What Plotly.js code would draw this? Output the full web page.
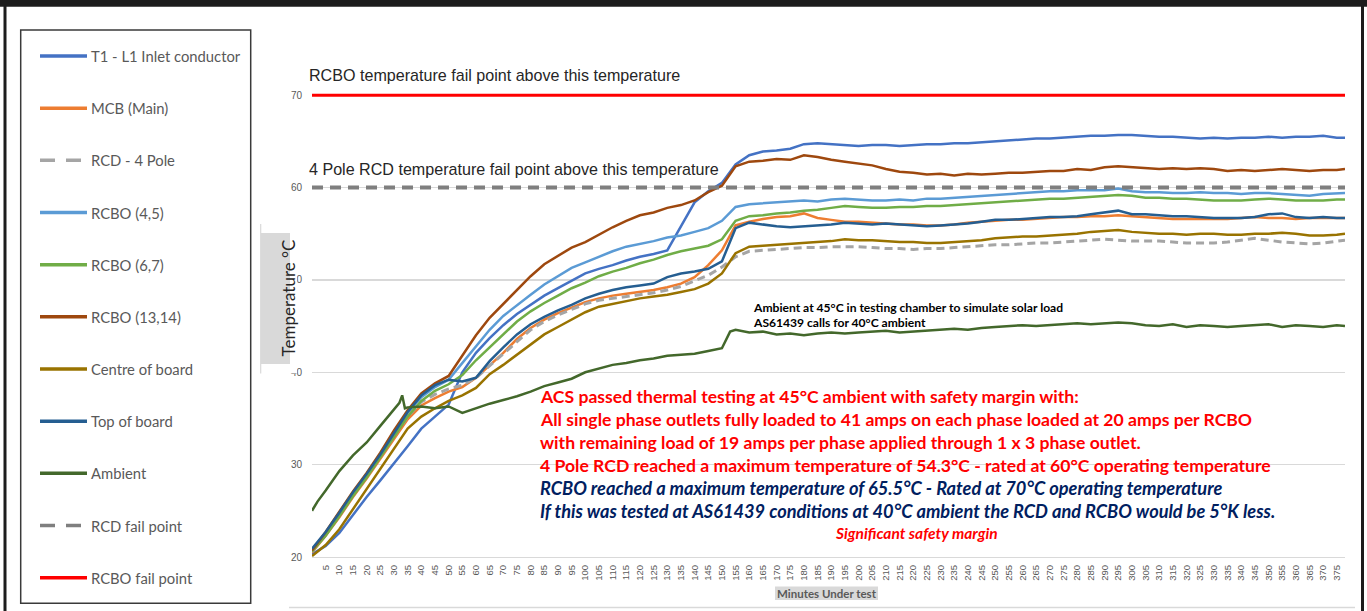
<!DOCTYPE html>
<html><head><meta charset="utf-8">
<script src="https://cdn.plot.ly/plotly-3.0.1.min.js"></script>
<style>html,body{margin:0;padding:0;background:#fff;overflow:hidden}#chart{width:1367px;height:611px}</style>
</head><body><div id="chart"></div>
<script>
// ---------------- DATA ----------------
const seriesNames = ["T1 - L1 Inlet conductor","MCB (Main)","RCD - 4 Pole","RCBO (4,5)","RCBO (6,7)","RCBO (13,14)","Centre of board","Top of board","Ambient","RCD fail point","RCBO fail point"];
const minutes = [0,5,10,15,20,25,30,35,40,45,50,55,60,65,70,75,80,85,90,95,100,105,110,115,120,125,130,135,140,145,150,155,160,165,170,175,180,185,190,195,200,205,210,215,220,225,230,235,240,245,250,255,260,265,270,275,280,285,290,295,300,305,310,315,320,325,330,335,340,345,350,355,360,365,370,375,378];
const t1Inlet = [20.3,21.2,22.6,24.6,26.5,28.3,30.1,32.0,33.9,35.2,36.5,40.0,42.1,43.7,45.1,46.3,47.3,48.3,49.1,49.9,50.7,51.2,51.6,52.1,52.5,52.8,53.2,55.8,58.4,59.6,60.5,62.5,63.5,63.9,64.0,64.2,64.7,64.8,64.7,64.6,64.5,64.6,64.6,64.5,64.6,64.7,64.7,64.8,64.8,64.9,65.0,65.1,65.2,65.3,65.3,65.4,65.5,65.6,65.6,65.7,65.7,65.6,65.5,65.5,65.4,65.3,65.4,65.3,65.4,65.4,65.5,65.4,65.5,65.5,65.6,65.4,65.4];
const mcbMain = [20.5,22.3,24.3,26.5,28.5,30.6,32.8,34.9,36.4,37.2,37.9,38.4,39.4,40.7,42.1,43.6,44.8,45.7,46.4,47.0,47.6,48.0,48.3,48.5,48.7,48.9,49.2,49.6,50.3,51.6,53.2,55.9,56.3,56.6,56.8,56.9,57.2,56.7,56.5,56.3,56.3,56.2,56.1,56.0,56.0,55.9,55.9,56.0,56.2,56.3,56.4,56.5,56.5,56.6,56.7,56.8,56.8,56.9,56.9,57.0,56.9,56.8,56.7,56.6,56.6,56.6,56.6,56.6,56.7,56.8,56.7,56.7,56.6,56.7,56.7,56.7,56.7];
const rcd4Pole = [20.6,22.5,24.6,26.8,28.8,30.9,33.1,35.2,36.8,37.6,38.2,38.6,39.4,40.7,42.0,43.4,44.6,45.5,46.2,46.8,47.4,47.8,48.0,48.2,48.4,48.6,48.9,49.3,49.9,50.5,51.4,52.5,53.1,53.2,53.3,53.4,53.5,53.5,53.6,53.6,53.6,53.5,53.4,53.4,53.3,53.4,53.4,53.5,53.6,53.7,53.8,53.8,53.9,54.0,54.0,54.1,54.2,54.3,54.4,54.3,54.2,54.2,54.2,54.1,54.0,54.0,54.0,54.1,54.3,54.5,54.3,54.1,54.0,53.9,54.0,54.2,54.3];
const rcbo45 = [20.8,22.6,24.7,26.9,28.8,31.0,33.4,35.6,37.3,38.4,39.2,41.0,42.8,44.6,46.1,47.3,48.4,49.5,50.4,51.3,51.9,52.5,53.1,53.6,53.9,54.2,54.6,54.8,55.2,55.6,56.4,57.9,58.2,58.3,58.4,58.5,58.6,58.5,58.7,58.8,58.7,58.6,58.6,58.7,58.6,58.8,58.8,58.9,59.0,59.1,59.2,59.3,59.4,59.5,59.6,59.6,59.7,59.7,59.7,59.9,59.6,59.5,59.5,59.4,59.4,59.5,59.4,59.4,59.3,59.4,59.4,59.3,59.2,59.1,59.3,59.4,59.4];
const rcbo67 = [20.6,22.3,24.4,26.6,28.6,30.8,33.1,35.2,36.9,38.0,38.7,39.7,41.3,42.7,44.2,45.5,46.6,47.5,48.3,49.1,49.7,50.4,50.9,51.3,51.8,52.2,52.7,53.1,53.4,53.7,54.4,56.4,56.9,57.0,57.2,57.3,57.5,57.6,57.8,58.0,57.9,57.8,57.8,57.9,57.9,58.0,58.0,58.1,58.2,58.3,58.4,58.5,58.6,58.7,58.8,58.8,58.9,59.0,59.1,59.2,59.1,58.9,58.9,58.8,58.8,58.7,58.6,58.6,58.6,58.7,58.8,58.7,58.6,58.6,58.6,58.7,58.7];
const rcbo1314 = [20.7,22.7,24.9,27.1,29.1,31.3,33.7,35.9,37.7,38.8,39.6,41.8,44.0,45.9,47.4,49.0,50.4,51.7,52.6,53.5,54.1,54.9,55.7,56.4,57.0,57.3,57.8,58.1,58.6,59.5,60.2,62.3,62.8,62.9,63.1,63.0,63.5,63.3,63.0,62.8,62.6,62.4,62.0,61.7,61.6,61.4,61.5,61.3,61.5,61.4,61.5,61.6,61.6,61.7,61.8,61.8,62.0,61.9,62.2,62.3,62.2,62.1,62.0,62.1,62.0,62.1,62.0,61.8,61.9,61.8,61.9,62.0,61.9,61.8,61.9,61.9,62.0];
const centreBoard = [20.1,21.3,23.0,25.2,27.3,29.5,31.8,33.9,35.2,36.1,36.9,37.5,38.3,39.8,40.8,41.9,43.1,44.1,44.9,45.7,46.5,47.1,47.4,47.7,48.0,48.2,48.4,48.7,49.0,49.6,50.7,52.9,53.6,53.7,53.8,53.9,54.0,54.1,54.2,54.4,54.3,54.3,54.2,54.1,54.1,54.0,54.0,54.1,54.2,54.3,54.5,54.6,54.7,54.7,54.8,54.9,55.0,55.2,55.3,55.4,55.2,55.1,55.0,55.0,54.9,55.0,55.0,54.9,54.9,55.0,55.0,55.1,55.0,54.8,54.8,54.9,55.0];
const topBoard = [20.9,22.7,24.8,27.0,29.0,31.1,33.4,35.7,37.5,38.6,39.2,39.0,39.4,41.2,42.7,44.1,45.2,46.0,46.7,47.3,48.0,48.5,48.9,49.2,49.4,49.6,50.3,50.7,50.9,51.2,52.0,55.6,56.2,56.0,55.8,55.7,55.8,55.9,56.0,56.2,56.1,56.0,56.1,56.0,55.9,55.8,55.9,56.0,56.1,56.3,56.5,56.5,56.6,56.7,56.8,56.8,56.9,57.1,57.3,57.5,57.1,57.1,57.0,56.9,56.9,56.8,56.7,56.7,56.7,56.8,57.1,57.2,56.8,56.7,56.8,56.7,56.7];
const ambientMinutes = [0,2,5,10,15,20,25,30,32,33,34,35,40,45,50,55,60,65,70,75,80,85,90,95,100,105,110,115,120,125,130,135,140,145,150,153,155,160,165,170,175,180,185,190,195,200,205,210,215,220,225,230,235,240,245,250,255,260,265,270,275,280,285,290,295,300,305,310,315,320,325,330,335,340,345,350,355,360,365,370,375,378];
const ambient = [25.0,26.0,27.2,29.3,31.0,32.4,34.2,36.0,36.7,37.5,36.1,36.2,36.3,36.1,36.3,35.6,36.1,36.6,37.0,37.4,37.9,38.5,38.9,39.3,40.0,40.4,40.8,41.0,41.3,41.5,41.8,41.9,42.0,42.3,42.6,44.4,44.6,44.3,44.4,44.1,44.2,44.0,44.2,44.3,44.2,44.3,44.4,44.5,44.3,44.4,44.5,44.6,44.7,44.6,44.8,44.9,45.0,45.1,45.0,45.1,45.2,45.3,45.2,45.3,45.4,45.3,45.1,45.0,45.2,44.9,45.1,45.0,44.9,45.0,45.1,45.2,44.9,45.1,45.0,44.9,45.1,45.0];
const failMinutes = [0,378];
const rcdFail = [60,60];
const rcboFail = [70,70];
const tempTicks = [20,30,40,50,60,70];
const minuteTicks = [5,10,15,20,25,30,35,40,45,50,55,60,65,70,75,80,85,90,95,100,105,110,115,120,125,130,135,140,145,150,155,160,165,170,175,180,185,190,195,200,205,210,215,220,225,230,235,240,245,250,255,260,265,270,275,280,285,290,295,300,305,310,315,320,325,330,335,340,345,350,355,360,365,370,375];
const noteLines = ["ACS passed thermal testing at 45°C ambient with safety margin with:",
  "All single phase outlets fully loaded to 41 amps on each phase loaded at 20 amps per RCBO",
  "with remaining load of 19 amps per phase applied through 1 x 3 phase outlet.",
  "4 Pole RCD reached a maximum temperature of 54.3°C - rated at 60°C operating temperature",
  "RCBO reached a maximum temperature of 65.5°C - Rated at 70°C operating temperature",
  "If this was tested at AS61439 conditions at 40°C ambient the RCD and RCBO would be 5°K less."];
const marginNote = "Significant safety margin";
const ambientNotes = ["Ambient at 45°C in testing chamber to simulate solar load","AS61439 calls for 40°C ambient"];
const limitNotes = ["RCBO temperature fail point above this temperature","4 Pole RCD temperature fail point above this temperature"];

// ---------------- STYLES ----------------
const styles = [
  {color:'#4472c4', dash:'solid', width:2.5},
  {color:'#ed7d31', dash:'solid', width:2.5},
  {color:'#a5a5a5', dash:'8px,5px', width:3, legDash:'15px,11px'},
  {color:'#5b9bd5', dash:'solid', width:2.5},
  {color:'#70ad47', dash:'solid', width:2.5},
  {color:'#9e480e', dash:'solid', width:2.5},
  {color:'#997300', dash:'solid', width:2.5},
  {color:'#255e91', dash:'solid', width:2.5},
  {color:'#43682b', dash:'solid', width:2.5},
  {color:'#7f7f7f', dash:'11px,7px', width:4, legDash:'15px,11px'},
  {color:'#ff0000', dash:'solid', width:3}
];
const xs = [minutes,minutes,minutes,minutes,minutes,minutes,minutes,minutes,ambientMinutes,failMinutes,failMinutes];
const ys = [t1Inlet,mcbMain,rcd4Pole,rcbo45,rcbo67,rcbo1314,centreBoard,topBoard,ambient,rcdFail,rcboFail];

const L=312, R=1345, T=49, B=557;
const xp = p => (p-L)/(R-L);
const yp = p => (B-p)/(B-T);
const FONT = 'Lato, "Noto Sans", sans-serif';

const traces = seriesNames.map((n,i)=>({
  type:'scatter', mode:'lines', name:n, x:xs[i], y:ys[i],
  line:{color:styles[i].color, width:styles[i].width, dash:styles[i].dash},
  hoverinfo:'skip', showlegend:false
}));

const shapes = [];
const annotations = [];
// outer frame
shapes.push({type:'rect',xref:'paper',yref:'paper',x0:xp(0),x1:xp(1367),y0:yp(0),y1:yp(6.7),fillcolor:'#1c1c1c',line:{width:0},layer:'above'});
shapes.push({type:'rect',xref:'paper',yref:'paper',x0:xp(3.5),x1:xp(6.5),y0:yp(0),y1:yp(611),fillcolor:'#1c1c1c',line:{width:0},layer:'above'});
shapes.push({type:'rect',xref:'paper',yref:'paper',x0:xp(1361),x1:xp(1364),y0:yp(0),y1:yp(611),fillcolor:'#1c1c1c',line:{width:0},layer:'above'});
// legend box
shapes.push({type:'rect',xref:'paper',yref:'paper',x0:xp(20.7),x1:xp(250.7),y0:yp(30),y1:yp(603.3),line:{color:'#3a3a3a',width:1.5},fillcolor:'rgba(0,0,0,0)',layer:'above'});
seriesNames.forEach((n,i)=>{
  const yy = 56 + 52.17*i;
  shapes.push({type:'line',xref:'paper',yref:'paper',x0:xp(40),x1:xp(87),y0:yp(yy),y1:yp(yy),
    line:{color:styles[i].color,width:3.5,dash:styles[i].legDash||'solid'},layer:'above'});
  annotations.push({xref:'paper',yref:'paper',x:xp(89),y:yp(yy),xanchor:'left',yanchor:'middle',showarrow:false,
    text:n,font:{family:FONT,size:14.8,color:'#595959'}});
});
// bottom light line
shapes.push({type:'line',xref:'paper',yref:'paper',x0:xp(289),x1:xp(1355),y0:yp(607.5),y1:yp(607.5),line:{color:'#d9d9d9',width:1.5},layer:'above'});
// y title area
shapes.push({type:'rect',xref:'paper',yref:'paper',x0:xp(261),x1:xp(297),y0:yp(373.5),y1:yp(224),fillcolor:'#ffffff',line:{width:0},layer:'above'});
shapes.push({type:'line',xref:'paper',yref:'paper',x0:xp(260.7),x1:xp(260.7),y0:yp(373.5),y1:yp(224),line:{color:'#d9d9d9',width:1.2},layer:'above'});
shapes.push({type:'rect',xref:'paper',yref:'paper',x0:xp(261),x1:xp(290),y0:yp(364),y1:yp(233),fillcolor:'#d9d9d9',line:{width:0},layer:'above'});
// x title box
shapes.push({type:'rect',xref:'paper',yref:'paper',x0:xp(775),x1:xp(878),y0:yp(600),y1:yp(586.5),fillcolor:'#d9d9d9',line:{width:0},layer:'above'});

annotations.push({xref:'paper',yref:'paper',x:xp(275.5),y:yp(298.5),textangle:-90,showarrow:false,
  text:'Temperature °C',font:{family:FONT,size:17,color:'#262626'}});
annotations.push({xref:'paper',yref:'paper',x:xp(826.5),y:yp(593.2),xanchor:'center',yanchor:'middle',showarrow:false,
  text:'Minutes Under test',font:{family:FONT,size:11.5,color:'#595959',weight:'bold'}});
[75,169].forEach((yy,i)=>annotations.push({xref:'paper',yref:'paper',x:xp(307),y:yp(yy),xanchor:'left',yanchor:'middle',showarrow:false,
  text:limitNotes[i],font:{family:'"Liberation Sans", Arial, sans-serif',size:16.1,color:'#262626'}}));
[307,323].forEach((yy,i)=>annotations.push({xref:'paper',yref:'paper',x:xp(751),y:yp(yy),xanchor:'left',yanchor:'middle',showarrow:false,
  text:ambientNotes[i],font:{family:FONT,size:12.1,color:'#000000',weight:'bold'}}));
const noteY=[396.7,419.3,442,465.7,488.3,511];
noteLines.forEach((t,i)=>annotations.push({xref:'paper',yref:'paper',x:xp(538),y:yp(noteY[i]),xanchor:'left',yanchor:'middle',showarrow:false,
  text:t,font:{family:FONT,size:i>=4?18.2:17.6,weight:'bold',style:i>=4?'italic':'normal',color:i>=4?'#002060':'#ff0000'}}));
annotations.push({xref:'paper',yref:'paper',x:xp(916),y:yp(533.3),xanchor:'center',yanchor:'middle',showarrow:false,
  text:marginNote,font:{family:FONT,size:15.5,weight:'bold',style:'italic',color:'#ff0000'}});

const layout = {
  width:1367, height:611, autosize:false,
  margin:{l:L, r:1367-R, t:T, b:611-B, pad:0},
  paper_bgcolor:'#ffffff', plot_bgcolor:'#ffffff',
  showlegend:false,
  xaxis:{range:[0,378], tickmode:'array', tickvals:minuteTicks, tickangle:-90, showgrid:false, zeroline:false,
    showline:true, linecolor:'#d9d9d9', linewidth:1.2, ticks:'', ticklabelstandoff:3,
    tickfont:{family:'"Liberation Sans", Arial, sans-serif', size:9.5, color:'#595959'}},
  yaxis:{range:[20,75], tickmode:'array', tickvals:tempTicks, showgrid:true, gridcolor:'#d9d9d9', gridwidth:1.2,
    zeroline:false, showline:false, ticks:'', ticklabelstandoff:9,
    tickfont:{family:'"Liberation Sans", Arial, sans-serif', size:10, color:'#595959'}},
  shapes:shapes, annotations:annotations
};
Plotly.newPlot('chart', traces, layout, {staticPlot:true, displayModeBar:false});
</script>
</body></html>
